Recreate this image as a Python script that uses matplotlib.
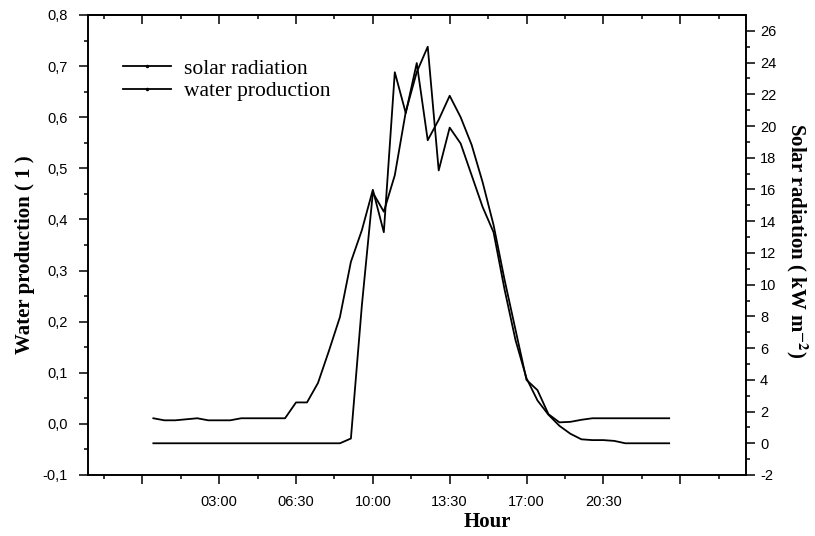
import matplotlib
matplotlib.use("Agg")
import matplotlib.pyplot as plt
from matplotlib.lines import Line2D
import numpy as np

# half-hour readings over one day
hours = [0.0, 0.5, 1.0, 1.5, 2.0, 2.5, 3.0, 3.5, 4.0, 4.5, 5.0, 5.5,
         6.0, 6.5, 7.0, 7.5, 8.0, 8.5, 9.0, 9.5, 10.0, 10.5, 11.0, 11.5,
         12.0, 12.5, 13.0, 13.5, 14.0, 14.5, 15.0, 15.5, 16.0, 16.5, 17.0, 17.5,
         18.0, 18.5, 19.0, 19.5, 20.0, 20.5, 21.0, 21.5, 22.0, 22.5, 23.0, 23.5]

# water production (l), left axis
water = [0.011, 0.007, 0.007, 0.009, 0.011, 0.007, 0.007, 0.007, 0.011, 0.011, 0.011, 0.011,
         0.011, 0.042, 0.042, 0.080, 0.143, 0.209, 0.317, 0.379, 0.458, 0.375, 0.688, 0.608,
         0.706, 0.555, 0.595, 0.642, 0.600, 0.546, 0.473, 0.389, 0.282, 0.184, 0.086, 0.066,
         0.019, 0.003, 0.004, 0.008, 0.011, 0.011, 0.011, 0.011, 0.011, 0.011, 0.011, 0.011]

# solar radiation (kW m-2), right axis
solar = [0.0, 0.0, 0.0, 0.0, 0.0, 0.0, 0.0, 0.0, 0.0, 0.0, 0.0, 0.0,
         0.0, 0.0, 0.0, 0.0, 0.0, 0.0, 0.3, 8.7, 15.8, 14.6, 16.9, 20.9,
         23.4, 25.0, 17.2, 19.9, 18.9, 16.9, 14.9, 13.3, 9.7, 6.5, 4.1, 2.7,
         1.8, 1.1, 0.6, 0.25, 0.2, 0.2, 0.15, 0.0, 0.0, 0.0, 0.0, 0.0]

xtick_pos = [-0.5, 3.0, 6.5, 10.0, 13.5, 17.0, 20.5, 24.0]
xtick_labels = ["", "03:00", "06:30", "10:00", "13:30", "17:00", "20:30", ""]
left_ticks = [-0.1, 0.0, 0.1, 0.2, 0.3, 0.4, 0.5, 0.6, 0.7, 0.8]
left_labels = ["-0,1", "0,0", "0,1", "0,2", "0,3", "0,4", "0,5", "0,6", "0,7", "0,8"]
right_ticks = list(range(-2, 27, 2))

serif = "Liberation Serif"
sans = "Liberation Sans"
plt.rcParams["mathtext.fontset"] = "stix"

fig = plt.figure(figsize=(8.15, 5.36), dpi=100)
ax = fig.add_axes([87.5 / 815, 1 - 475 / 536, (746 - 87.5) / 815, 460 / 536])
ax2 = ax.twinx()

ax.plot(hours, water, color="black", lw=1.3)
ax2.plot(hours, solar, color="black", lw=1.3)

ax.set_xlim(-3, 27)
ax.set_ylim(-0.1, 0.8)
ax2.set_ylim(-2, 27)

minor_x = list(np.array(xtick_pos) + 1.75) + [-2.25]
ax.set_xticks(xtick_pos)
ax.set_xticklabels(xtick_labels, fontfamily=sans, fontsize=10.5)
ax.set_xticks(minor_x, minor=True)

ax.set_yticks(left_ticks)
ax.set_yticklabels(left_labels, fontfamily=sans, fontsize=10.5)
ax.set_yticks(np.arange(-0.05, 0.8, 0.1), minor=True)

ax2.set_yticks(right_ticks)
ax2.set_yticklabels([str(t) for t in right_ticks], fontfamily=sans, fontsize=10.5)
ax2.set_yticks(range(-1, 27, 2), minor=True)

for a in (ax, ax2):
    a.tick_params(which="major", length=6.5, width=1.1, direction="out", colors="black")
    a.tick_params(which="minor", length=3, width=1.1, direction="out")
    for s in a.spines.values():
        s.set_linewidth(1.2)
ax.tick_params(axis="y", which="major", pad=7.5)
ax.tick_params(axis="x", which="major", pad=8)

# inward ticks along the top edge
top = ax.secondary_xaxis("top")
top.set_xticks(xtick_pos)
top.set_xticklabels([])
top.set_xticks(minor_x, minor=True)
top.tick_params(which="major", direction="in", length=6.5, width=1.1)
top.tick_params(which="minor", direction="in", length=3, width=1.1)
top.spines["top"].set_linewidth(1.2)

ax.set_xlabel("Hour", fontfamily=serif, fontweight="bold", fontsize=15)
ax.xaxis.set_label_coords(0.607, -0.08)
ax.set_ylabel("Water production ( 1 )", fontfamily=serif, fontweight="bold", fontsize=15)
ax.yaxis.set_label_coords(-0.079, 0.48)
ax2.set_ylabel(r"Solar radiation ( kW m$^{\mathbf{-2}}$)", fontfamily=serif,
               fontweight="bold", fontsize=15, rotation=-90)
ax2.yaxis.set_label_coords(1.097, 0.51)

handles = [Line2D([], [], color="black", lw=1.3, marker=".", ms=3),
           Line2D([], [], color="black", lw=1.3, marker=".", ms=3)]
leg = ax.legend(handles, ["solar radiation", "water production"], loc="upper left",
                bbox_to_anchor=(0.054, 0.905), frameon=False, prop={"family": serif, "size": 15.5},
                handlelength=2.25, handletextpad=0.6, labelspacing=0.12,
                borderaxespad=0, borderpad=0)

fig.savefig("out.png", dpi=100)
